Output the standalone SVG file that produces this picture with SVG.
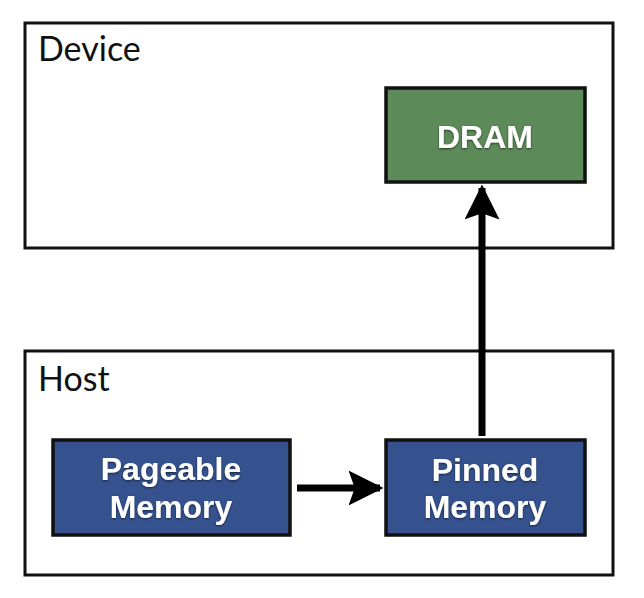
<svg xmlns="http://www.w3.org/2000/svg" width="644" height="598" viewBox="0 0 644 598">
  <style>
    .frame { fill: #ffffff; stroke: #111111; stroke-width: 3; }
    .box { stroke: #111111; stroke-width: 3.5; }
    .green { fill: #5d8a59; }
    .blue { fill: #35528f; }
    .title { font-family: Lato, "Open Sans", sans-serif; font-size: 34px; fill: #111111; }
    .label { font-family: "Liberation Sans", Arial, sans-serif; font-weight: bold; font-size: 32px; fill: #ffffff; text-anchor: middle; filter: url(#shadow); }
    .conn { stroke: #000000; stroke-width: 7; fill: none; }
  </style>
  <defs>
    <filter id="shadow" x="-20%" y="-30%" width="140%" height="160%">
      <feDropShadow dx="0" dy="1" stdDeviation="1.2" flood-color="#000000" flood-opacity="0.6"/>
    </filter>
    <marker id="arrow" viewBox="0 0 10 10" refX="9" refY="5" markerWidth="5" markerHeight="5" orient="auto" markerUnits="strokeWidth">
      <path d="M0,0 L10,5 L0,10 L1.8,5 Z" fill="#000000"/>
    </marker>
  </defs>
  <rect width="644" height="598" fill="#ffffff"/>

  <g id="device">
    <rect class="frame" x="25" y="23" width="588" height="225"/>
    <text class="title" x="38" y="61">Device</text>
  </g>

  <g id="host">
    <rect class="frame" x="25" y="351" width="588" height="224"/>
    <text class="title" x="38" y="391">Host</text>
  </g>

  <g id="dram">
    <rect class="box green" x="386" y="88" width="199" height="94"/>
    <text class="label" x="485" y="148">DRAM</text>
  </g>

  <g id="pageable">
    <rect class="box blue" x="53" y="440" width="237" height="95"/>
    <text class="label" x="171" y="480">Pageable</text>
    <text class="label" x="171" y="518">Memory</text>
  </g>

  <g id="pinned">
    <rect class="box blue" x="386" y="440" width="199" height="95"/>
    <text class="label" x="485" y="481">Pinned</text>
    <text class="label" x="485" y="518">Memory</text>
  </g>

  <g id="connectors">
    <line class="conn" x1="297" y1="488" x2="380" y2="488" marker-end="url(#arrow)"/>
    <line class="conn" x1="482" y1="436" x2="482" y2="188" marker-end="url(#arrow)"/>
  </g>
</svg>
